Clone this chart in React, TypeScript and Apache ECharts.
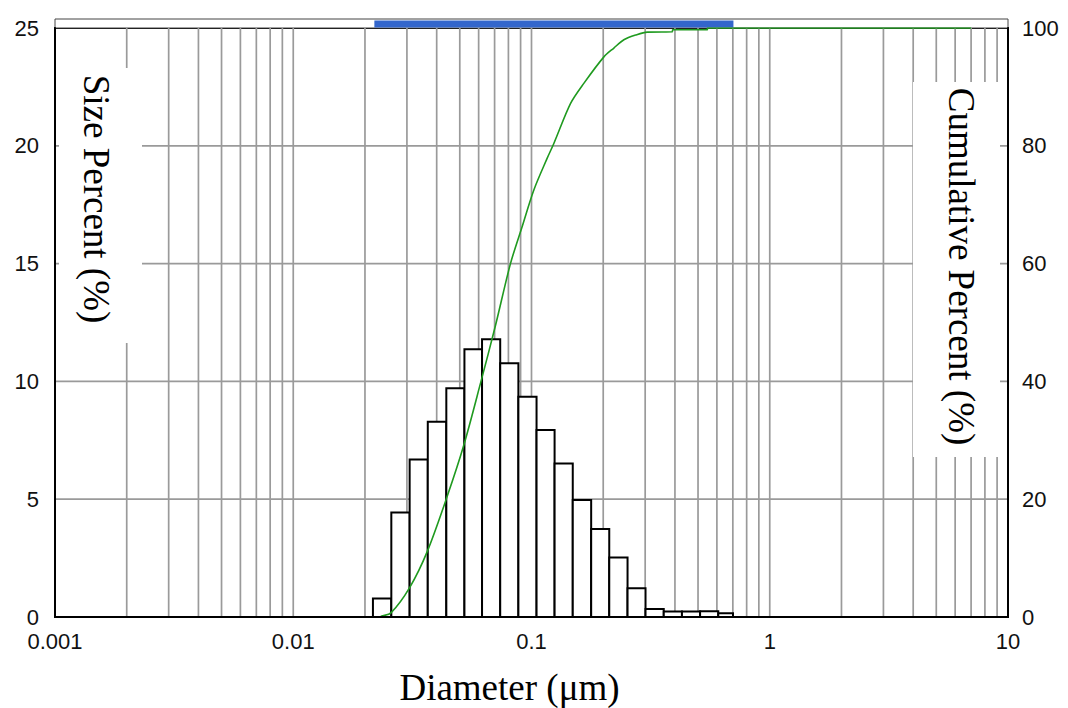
import React, { useEffect, useRef } from "react";
import * as echarts from "echarts";

// Histogram bin edges (µm)
const binEdges = [
  0.0216, 0.0258, 0.0308, 0.0367, 0.0439, 0.0523, 0.062, 0.0739, 0.0881, 0.105,
  0.125, 0.149, 0.178, 0.212, 0.253, 0.301, 0.359, 0.428, 0.51, 0.608, 0.701,
];
// Size percent per bin (%)
const sizePercent = [
  0.79, 4.44, 6.69, 8.29, 9.71, 11.36, 11.79, 10.77, 9.35, 7.94, 6.52, 4.97, 3.73,
  2.53, 1.22, 0.34, 0.23, 0.23, 0.24, 0.16,
];
// Cumulative curve
const cumDiameter = [
  0.0032, 0.0228, 0.0235, 0.0257, 0.0308, 0.0365, 0.0442, 0.052, 0.0611, 0.0706,
  0.0816, 0.0914, 0.1023, 0.1164, 0.1241, 0.1459, 0.1658, 0.2013, 0.2217, 0.2442,
  0.2735, 0.3062, 0.3903, 0.391, 0.547, 0.548, 7.0,
];
const cumPercent = [
  0, 0, 0.15, 0.7, 5.0, 11.1, 20.4, 29.2, 39.7, 49.5, 60.0, 66.3, 72.5, 77.9, 80.4,
  87.2, 90.6, 95.1, 96.6, 98.0, 98.8, 99.3, 99.35, 99.7, 99.7, 100, 100,
];
// Measured range band shown above the plot (µm)
const rangeBand = [0.0219, 0.704];

// Axis settings
const xMin = 0.001;
const xMax = 10;
const sizeMax = 25;
const sizeInterval = 5;
const cumMax = 100;
const cumInterval = 20;
const verticalGrid = [
  0.002, 0.003, 0.004, 0.005, 0.006, 0.007, 0.008, 0.009, 0.01,
  0.02, 0.03, 0.04, 0.05, 0.06, 0.07, 0.08, 0.09, 0.1,
  0.2, 0.3, 0.4, 0.5, 0.6, 0.7, 0.8, 0.9, 1,
  2, 3, 4, 5, 6, 7, 8, 9,
];
const horizontalGrid = [5, 10, 15, 20];

const SANS = '"Liberation Sans", Arial, sans-serif';
const SERIF = '"Liberation Serif", "Times New Roman", serif';
const GRID_COLOR = "#9a9a9a";

export default function App() {
  const ref = useRef<HTMLDivElement>(null);

  useEffect(() => {
    if (!ref.current) return;
    const chart = echarts.init(ref.current, null, { renderer: "svg" });

    const labelFormatter = (v: number) => Number(v.toPrecision(6)).toString();

    const option: any = {
      animation: false,
      backgroundColor: "#fff",
      grid: [
        {
          left: 55,
          right: 60,
          top: 28,
          bottom: 91,
          containLabel: false,
          outerBoundsMode: "none",
          show: true,
          borderColor: "#000",
          borderWidth: 2,
          backgroundColor: "transparent",
        },
        {
          left: 55,
          right: 60,
          top: 19,
          height: 9,
          containLabel: false,
          outerBoundsMode: "none",
          show: true,
          borderColor: "#444",
          borderWidth: 1,
          backgroundColor: "#fff",
        },
      ],
      xAxis: [
        {
          type: "log",
          logBase: 10,
          gridIndex: 0,
          min: xMin,
          max: xMax,
          z: 5,
          axisLine: { show: true, lineStyle: { color: "#000", width: 2 } },
          axisTick: { show: false },
          splitLine: { show: false },
          minorTick: { show: false },
          axisLabel: {
            fontFamily: SANS,
            fontSize: 22,
            color: "#111",
            margin: 13,
            formatter: labelFormatter,
          },
          name: "Diameter (μm)",
          nameLocation: "middle",
          nameGap: 52,
          nameTextStyle: {
            fontFamily: SERIF,
            fontSize: 37,
            color: "#000",
            padding: [0, 44, 0, 0],
          },
        },
        {
          type: "log",
          logBase: 10,
          gridIndex: 1,
          min: xMin,
          max: xMax,
          show: false,
        },
      ],
      yAxis: [
        {
          type: "value",
          gridIndex: 0,
          position: "left",
          min: 0,
          max: sizeMax,
          interval: sizeInterval,
          z: 5,
          axisLine: { show: true, lineStyle: { color: "#000", width: 2 } },
          axisTick: { show: false },
          splitLine: { show: false },
          axisLabel: { fontFamily: SANS, fontSize: 22, color: "#111", margin: 16 },
        },
        {
          type: "value",
          gridIndex: 0,
          position: "right",
          min: 0,
          max: cumMax,
          interval: cumInterval,
          z: 5,
          axisLine: { show: true, lineStyle: { color: "#000", width: 2 } },
          axisTick: { show: false },
          splitLine: { show: false },
          axisLabel: { fontFamily: SANS, fontSize: 22, color: "#111", margin: 14 },
        },
        {
          type: "value",
          gridIndex: 1,
          min: 0,
          max: 1,
          show: false,
        },
      ],
      graphic: [
        {
          type: "rect",
          z: 100,
          shape: { x: 59, y: 68, width: 83, height: 275 },
          style: { fill: "#fff" },
        },
        {
          type: "text",
          z: 101,
          x: 96,
          y: 199,
          rotation: -Math.PI / 2,
          style: {
            text: "Size Percent (%)",
            font: `37px ${SERIF}`,
            fill: "#000",
            align: "center",
            verticalAlign: "middle",
          },
        },
        {
          type: "rect",
          z: 100,
          shape: { x: 913, y: 82, width: 87, height: 375 },
          style: { fill: "#fff" },
        },
        {
          type: "text",
          z: 101,
          x: 961.5,
          y: 266.5,
          rotation: -Math.PI / 2,
          style: {
            text: "Cumulative Percent (%)",
            font: `37px ${SERIF}`,
            fill: "#000",
            align: "center",
            verticalAlign: "middle",
          },
        },
      ],
      series: [
        {
          type: "custom",
          name: "vgrid",
          xAxisIndex: 0,
          yAxisIndex: 0,
          silent: true,
          z: 1,
          clip: false,
          encode: { x: 0, y: 1 },
          data: verticalGrid.map((v) => [v, 0]),
          renderItem: (_p: any, api: any) => {
            const a = api.coord([api.value(0), 0]);
            const b = api.coord([api.value(0), sizeMax]);
            return {
              type: "line",
              shape: { x1: a[0], y1: a[1], x2: b[0], y2: b[1] },
              style: { stroke: GRID_COLOR, lineWidth: 1.7 },
            };
          },
        },
        {
          type: "custom",
          name: "hgrid",
          xAxisIndex: 0,
          yAxisIndex: 0,
          silent: true,
          z: 1,
          clip: false,
          encode: { x: 0, y: 1 },
          data: horizontalGrid.map((v) => [xMin, v]),
          renderItem: (_p: any, api: any) => {
            const a = api.coord([xMin, api.value(1)]);
            const b = api.coord([xMax, api.value(1)]);
            return {
              type: "line",
              shape: { x1: a[0], y1: a[1], x2: b[0], y2: b[1] },
              style: { stroke: GRID_COLOR, lineWidth: 1.7 },
            };
          },
        },
        {
          type: "custom",
          name: "Size Percent",
          xAxisIndex: 0,
          yAxisIndex: 0,
          z: 2,
          encode: { x: [0, 1], y: 2 },
          data: sizePercent.map((v, i) => [binEdges[i], binEdges[i + 1], v]),
          renderItem: (_p: any, api: any) => {
            const a = api.coord([api.value(0), api.value(2)]);
            const b = api.coord([api.value(1), 0]);
            return {
              type: "rect",
              shape: { x: a[0], y: a[1], width: b[0] - a[0], height: b[1] - a[1] },
              style: { fill: "#fff", stroke: "#000", lineWidth: 2 },
            };
          },
        },
        {
          type: "line",
          name: "Cumulative Percent",
          xAxisIndex: 0,
          yAxisIndex: 1,
          z: 3,
          symbol: "none",
          smooth: 0.3,
          lineStyle: { color: "#1f9a1f", width: 1.6 },
          data: cumDiameter.map((d, i) => [d, cumPercent[i]]),
        },
        {
          type: "custom",
          name: "Range",
          xAxisIndex: 1,
          yAxisIndex: 2,
          z: 2,
          clip: false,
          encode: { x: [0, 1] },
          data: [[rangeBand[0], rangeBand[1]]],
          renderItem: (_p: any, api: any) => {
            const a = api.coord([api.value(0), 1]);
            const b = api.coord([api.value(1), 0]);
            return {
              type: "rect",
              shape: {
                x: a[0],
                y: a[1] + 1.5,
                width: b[0] - a[0],
                height: b[1] - a[1] - 2,
              },
              style: { fill: "#3366cc" },
            };
          },
        },
      ],
    };

    chart.setOption(option);
    return () => chart.dispose();
  }, []);

  return (
    <div
      ref={ref}
      style={{ position: "fixed", left: 0, top: 0, width: 1068, height: 708, background: "#fff" }}
    />
  );
}
